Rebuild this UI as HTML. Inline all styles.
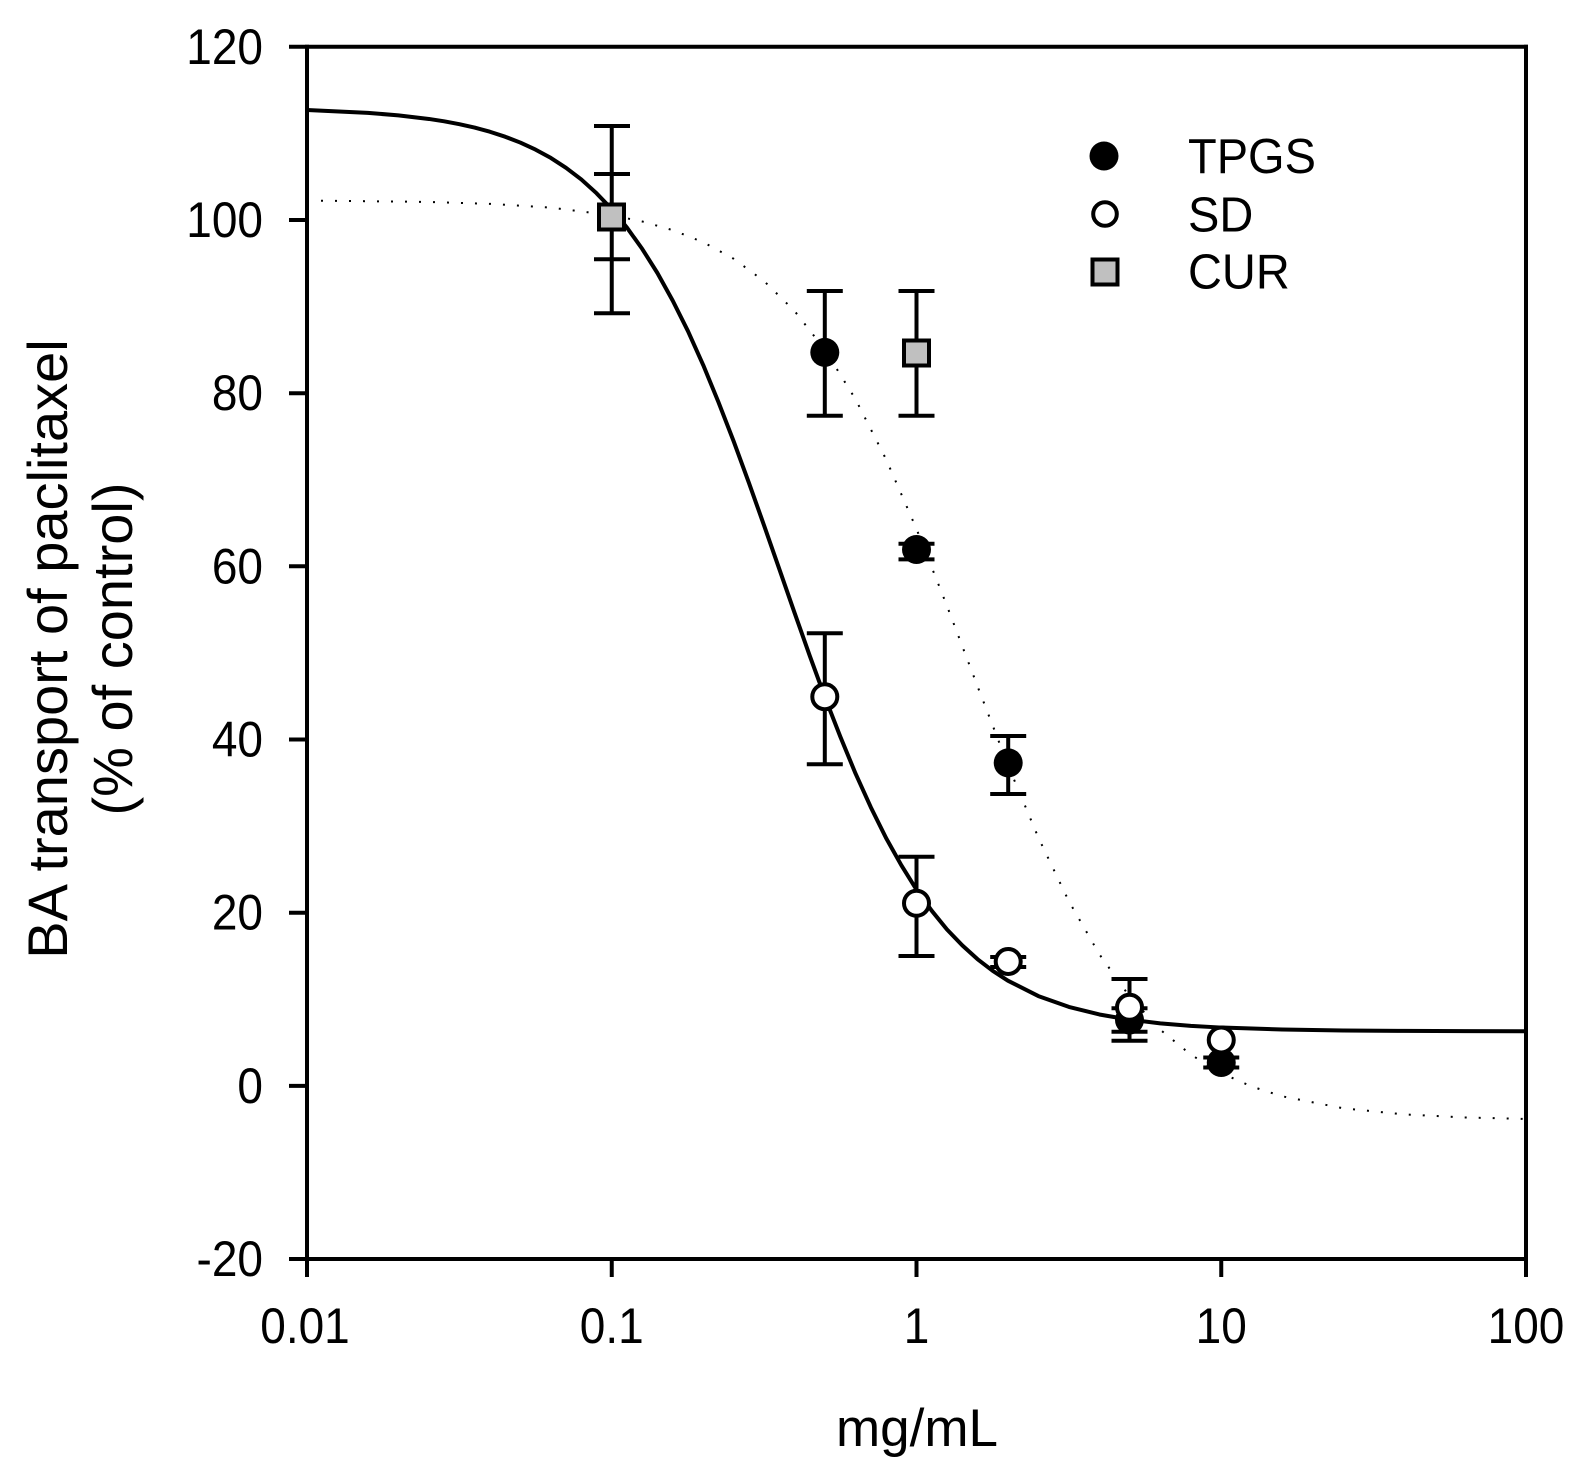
<!DOCTYPE html>
<html>
<head>
<meta charset="utf-8">
<style>
  html, body { margin: 0; padding: 0; background: #ffffff; }
  svg { display: block; }
  text { font-family: "Liberation Sans", Arial, sans-serif; fill: #000; }
</style>
</head>
<body>
<svg width="1586" height="1480" viewBox="0 0 1586 1480" xmlns="http://www.w3.org/2000/svg">
  <rect x="0" y="0" width="1586" height="1480" fill="#ffffff"/>

  <!-- Frame -->
  <g stroke="#000" stroke-width="4" fill="none" stroke-linecap="butt">
    <line x1="289" y1="46.8" x2="1528" y2="46.8"/>
    <line x1="307" y1="44.8" x2="307" y2="1277"/>
    <line x1="289" y1="1259" x2="1528" y2="1259"/>
    <line x1="1526" y1="44.8" x2="1526" y2="1277"/>
    <!-- Y ticks -->
    <line x1="289" y1="220" x2="307" y2="220"/>
    <line x1="289" y1="393.2" x2="307" y2="393.2"/>
    <line x1="289" y1="566.3" x2="307" y2="566.3"/>
    <line x1="289" y1="739.5" x2="307" y2="739.5"/>
    <line x1="289" y1="912.7" x2="307" y2="912.7"/>
    <line x1="289" y1="1085.9" x2="307" y2="1085.9"/>
    <!-- X ticks -->
    <line x1="611.75" y1="1259" x2="611.75" y2="1277"/>
    <line x1="916.5" y1="1259" x2="916.5" y2="1277"/>
    <line x1="1221.25" y1="1259" x2="1221.25" y2="1277"/>
  </g>

  <!-- Y tick labels -->
  <g font-size="46" text-anchor="end">
    <text transform="translate(263,63.8) scale(1,1.08)">120</text>
    <text transform="translate(263,237) scale(1,1.08)">100</text>
    <text transform="translate(263,410.2) scale(1,1.08)">80</text>
    <text transform="translate(263,583.3) scale(1,1.08)">60</text>
    <text transform="translate(263,756.5) scale(1,1.08)">40</text>
    <text transform="translate(263,929.7) scale(1,1.08)">20</text>
    <text transform="translate(263,1102.9) scale(1,1.08)">0</text>
    <text transform="translate(263,1276) scale(1,1.08)">-20</text>
  </g>

  <!-- X tick labels -->
  <g font-size="46" text-anchor="middle">
    <text transform="translate(305,1343) scale(1,1.08)">0.01</text>
    <text transform="translate(611.75,1343) scale(1,1.08)">0.1</text>
    <text transform="translate(916.5,1343) scale(1,1.08)">1</text>
    <text transform="translate(1221.25,1343) scale(1,1.08)">10</text>
    <text transform="translate(1526,1343) scale(1,1.08)">100</text>
  </g>

  <!-- Axis titles -->
  <text x="917" y="1446" font-size="53" text-anchor="middle">mg/mL</text>
  <text transform="translate(67,649) rotate(-90)" font-size="56" text-anchor="middle">BA transport of paclitaxel</text>
  <text transform="translate(132,649) rotate(-90)" font-size="56" text-anchor="middle">(% of control)</text>

  <!-- Dotted fit (TPGS) -->
  <polyline fill="none" stroke="#000" stroke-width="2" stroke-dasharray="2 12"
    points="307,200.53 428.9,201.94 489.85,203.85 550.8,207.66 611.75,215.24 642.2,221.47 672.7,230.15 703.2,242.18 733.6,258.71 764.1,281.13 794.6,311.01 825.0,349.94 855.5,399.17 886.0,459.13 916.5,528.91 947.0,605.97 977.5,686.21 1007.9,764.92 1038.4,837.66 1068.9,901.29 1099.4,954.34 1129.8,996.81 1160.3,1029.73 1190.8,1054.61 1221.25,1073.06 1251.7,1086.54 1282.2,1096.30 1343.1,1108.30 1404.1,1114.39 1465.05,1117.44 1526,1118.96"/>

  <!-- Solid fit (SD) -->
  <polyline fill="none" stroke="#000" stroke-width="4" stroke-linejoin="round"
    points="307,110.0 367.95,112.85 398.4,115.4 428.9,118.96 444.2,121.3 459.4,124.19 474.6,127.6 489.85,131.74 505.1,136.7 520.3,142.56 535.5,149.6 550.8,157.92 566.0,167.8 581.3,179.44 596.5,193.2 611.75,209.09 627.0,227.7 642.2,248.89 657.4,273.0 672.7,300.62 688.0,331.2 703.2,365.03 718.4,402.0 733.6,441.10 748.9,482.8 764.1,525.53 779.4,569.3 794.6,612.92 809.8,655.9 825.0,697.38 840.3,736.6 855.5,773.47 870.8,807.2 886.0,837.91 901.3,865.2 916.5,889.67 931.8,910.8 947.0,929.47 962.3,945.4 977.5,959.16 992.7,970.8 1007.9,980.71 1038.4,996.09 1068.9,1006.92 1099.4,1014.48 1129.8,1019.73 1160.3,1023.35 1190.8,1025.85 1221.25,1027.56 1282.2,1029.54 1343.1,1030.47 1404.1,1030.91 1465.05,1031.11 1526,1031.2"/>

  <!-- Error bars -->
  <g stroke="#000" stroke-width="4" fill="none">
    <!-- 0.1 outer -->
    <line x1="611.75" y1="126" x2="611.75" y2="313.3"/>
    <line x1="594" y1="126" x2="630" y2="126"/>
    <line x1="594" y1="313.3" x2="630" y2="313.3"/>
    <!-- 0.1 inner -->
    <line x1="594" y1="174" x2="630" y2="174"/>
    <line x1="594" y1="259.3" x2="630" y2="259.3"/>
    <!-- TPGS 0.5 -->
    <line x1="824.8" y1="291" x2="824.8" y2="415.7"/>
    <line x1="806.8" y1="291" x2="842.8" y2="291"/>
    <line x1="806.8" y1="415.7" x2="842.8" y2="415.7"/>
    <!-- CUR 1 -->
    <line x1="916.5" y1="291" x2="916.5" y2="415.7"/>
    <line x1="898.5" y1="291" x2="934.5" y2="291"/>
    <line x1="898.5" y1="415.7" x2="934.5" y2="415.7"/>
    <!-- TPGS 1 -->
    <line x1="898.5" y1="543.8" x2="934.5" y2="543.8"/>
    <line x1="898.5" y1="559.4" x2="934.5" y2="559.4"/>
    <!-- TPGS 2 -->
    <line x1="1008.2" y1="736" x2="1008.2" y2="794"/>
    <line x1="990.2" y1="736" x2="1026.2" y2="736"/>
    <line x1="990.2" y1="794" x2="1026.2" y2="794"/>
    <!-- SD 0.5 -->
    <line x1="824.8" y1="633.3" x2="824.8" y2="764.3"/>
    <line x1="806.8" y1="633.3" x2="842.8" y2="633.3"/>
    <line x1="806.8" y1="764.3" x2="842.8" y2="764.3"/>
    <!-- SD 1 -->
    <line x1="916.5" y1="856.7" x2="916.5" y2="956"/>
    <line x1="898.5" y1="856.7" x2="934.5" y2="856.7"/>
    <line x1="898.5" y1="956" x2="934.5" y2="956"/>
    <!-- SD 2 -->
    <line x1="990.2" y1="957" x2="1026.2" y2="957"/>
    <line x1="990.2" y1="967" x2="1026.2" y2="967"/>
    <!-- 5 -->
    <line x1="1129.5" y1="979" x2="1129.5" y2="1040.7"/>
    <line x1="1111.5" y1="979" x2="1147.5" y2="979"/>
    <line x1="1111.5" y1="1040.7" x2="1147.5" y2="1040.7"/>
    <line x1="1111.5" y1="1031.7" x2="1147.5" y2="1031.7"/>
    <line x1="1111.5" y1="1008.3" x2="1147.5" y2="1008.3"/>
    <!-- TPGS 10 -->
    <line x1="1203.25" y1="1057.5" x2="1239.25" y2="1057.5"/>
    <line x1="1203.25" y1="1067.5" x2="1239.25" y2="1067.5"/>
  </g>

  <!-- TPGS filled circles -->
  <g fill="#000">
    <circle cx="824.8" cy="352.4" r="14.5"/>
    <circle cx="916.5" cy="549.5" r="14.5"/>
    <circle cx="1008.2" cy="762.9" r="14.5"/>
    <circle cx="1129.5" cy="1020" r="14.5"/>
    <circle cx="1221.25" cy="1062.5" r="14.5"/>
  </g>

  <!-- SD open circles -->
  <g fill="#fff" stroke="#000" stroke-width="4">
    <circle cx="824.8" cy="696.7" r="12.5"/>
    <circle cx="916.5" cy="903.3" r="12.5"/>
    <circle cx="1008.2" cy="961.5" r="12.5"/>
    <circle cx="1129.5" cy="1007.3" r="12.5"/>
    <circle cx="1221.25" cy="1040" r="12.5"/>
  </g>

  <!-- CUR squares -->
  <g fill="#c0c0c0" stroke="#000" stroke-width="4">
    <rect x="599" y="204.5" width="25" height="25"/>
    <rect x="904" y="340.5" width="25" height="25"/>
  </g>

  <!-- Legend -->
  <circle cx="1104" cy="156" r="14.5" fill="#000"/>
  <circle cx="1105" cy="214" r="11.8" fill="#fff" stroke="#000" stroke-width="4"/>
  <rect x="1092.5" y="259.5" width="25" height="25" fill="#c0c0c0" stroke="#000" stroke-width="4"/>
  <g font-size="47">
    <text transform="translate(1188,173) scale(1,1.05)">TPGS</text>
    <text transform="translate(1188,231.5) scale(1,1.05)">SD</text>
    <text transform="translate(1188,288.5) scale(1,1.05)">CUR</text>
  </g>
</svg>
</body>
</html>
